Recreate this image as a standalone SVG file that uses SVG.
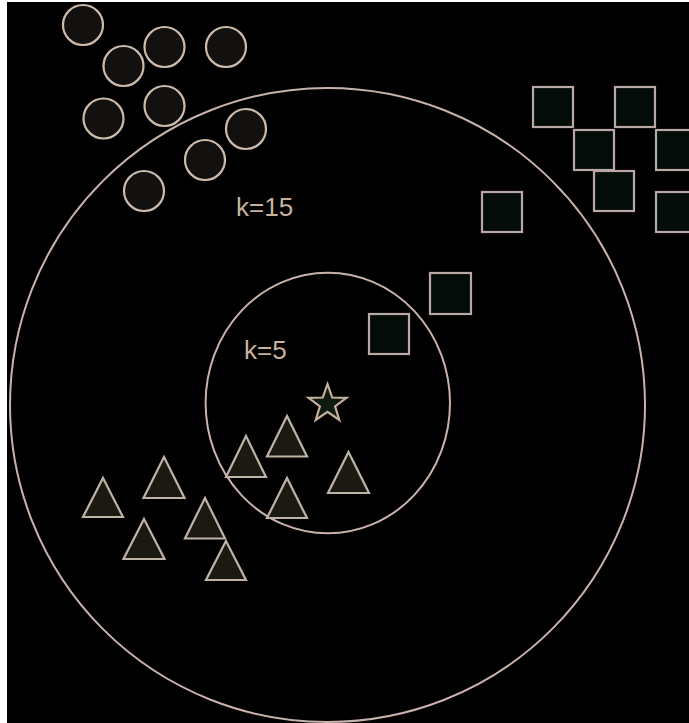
<svg xmlns="http://www.w3.org/2000/svg" width="689" height="723" viewBox="0 0 689 723">
<style>
.bg{fill:#000}
.ring{fill:none;stroke:#c8b2ac;stroke-width:2}
.dot{fill:#121110;stroke:#cdbcab;stroke-width:2.2}
.sq{fill:#030c09;stroke:#b9a9a6;stroke-width:2.2}
.tri{fill:#1b1a12;stroke:#bdb3a6;stroke-width:2.2;stroke-linejoin:miter}
.star{fill:#0f1a10;stroke:#c4b09c;stroke-width:2.2}
.lbl{font-family:"Liberation Sans",Arial,sans-serif;font-size:26px;fill:#c7b29e}
</style>
<rect x="0" y="0" width="689" height="723" fill="#ffffff"/>
<rect class="bg" x="7" y="2" width="682" height="721"/>
<g id="rings">
<ellipse id="ring-k15" class="ring" cx="327.5" cy="405" rx="317.5" ry="317"/>
<ellipse id="ring-k5" class="ring" cx="327.8" cy="403" rx="122.2" ry="130.3"/>
</g>
<g id="circles">
<circle id="c1" class="dot" cx="83" cy="25" r="20"/>
<circle id="c2" class="dot" cx="123.5" cy="66" r="20"/>
<circle id="c3" class="dot" cx="164.5" cy="47" r="20"/>
<circle id="c4" class="dot" cx="226" cy="47" r="20"/>
<circle id="c5" class="dot" cx="103.5" cy="118.5" r="20"/>
<circle id="c6" class="dot" cx="164.5" cy="106" r="20"/>
<circle id="c7" class="dot" cx="246" cy="129" r="20"/>
<circle id="c8" class="dot" cx="205" cy="160" r="20"/>
<circle id="c9" class="dot" cx="144" cy="191" r="20"/>
</g>
<g id="squares">
<rect id="s1" class="sq" x="533" y="87" width="40" height="40"/>
<rect id="s2" class="sq" x="615" y="87" width="40" height="40"/>
<rect id="s3" class="sq" x="574" y="130" width="40" height="40"/>
<rect id="s4" class="sq" x="656" y="130" width="40" height="40"/>
<rect id="s5" class="sq" x="594" y="171" width="40" height="40"/>
<rect id="s6" class="sq" x="656" y="192" width="40" height="40"/>
<rect id="s7" class="sq" x="482" y="192" width="40" height="40"/>
<rect id="s8" class="sq" x="430" y="273" width="41" height="41"/>
<rect id="s9" class="sq" x="369" y="314" width="40" height="40"/>
</g>
<g id="triangles">
<path id="t1" class="tri" d="M103 478 L123 517 L83 517 Z"/>
<path id="t2" class="tri" d="M164 457 L184.5 498 L143.5 498 Z"/>
<path id="t3" class="tri" d="M144 519 L164.5 559 L123.5 559 Z"/>
<path id="t4" class="tri" d="M205 498 L225 538.5 L185 538.5 Z"/>
<path id="t5" class="tri" d="M226 541 L246 580 L206 580 Z"/>
<path id="t6" class="tri" d="M246 436 L266 477 L226 477 Z"/>
<path id="t7" class="tri" d="M287 416 L307 456.5 L267 456.5 Z"/>
<path id="t8" class="tri" d="M287 478 L307 518 L267 518 Z"/>
<path id="t9" class="tri" d="M348.5 452 L369 493 L328 493 Z"/>
</g>
<g id="query">
<path id="star" class="star" d="M327.5 384 L332.2 397.5 L346.5 397.8 L335.1 406.4 L339.3 420 L327.5 411.9 L315.7 420 L319.9 406.4 L308.5 397.8 L322.8 397.5 Z"/>
</g>
<g id="labels">
<text id="lbl-k15" class="lbl" x="236" y="216">k=15</text>
<text id="lbl-k5" class="lbl" x="244" y="359">k=5</text>
</g>
</svg>
